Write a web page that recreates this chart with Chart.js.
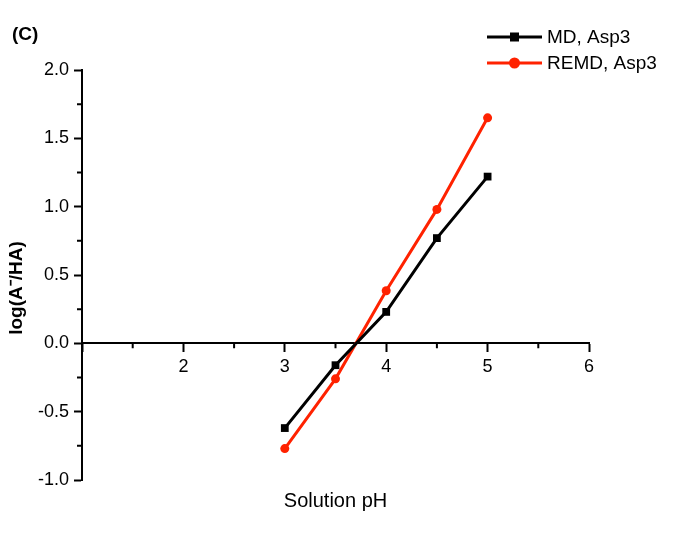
<!DOCTYPE html>
<html>
<head>
<meta charset="utf-8">
<script src="https://cdn.jsdelivr.net/npm/chart.js@4"></script>
<style>
  html, body { margin: 0; padding: 0; background: #fff; }
  #wrap { width: 675px; height: 535px; }
</style>
</head>
<body>
<div id="wrap"><canvas id="chart" width="675" height="535"></canvas></div>
<script>
// data
const phValues = [3, 3.5, 4, 4.5, 5];
const mdValues = [-0.62, -0.16, 0.23, 0.77, 1.22];
const remdValues = [-0.77, -0.26, 0.385, 0.98, 1.65];
const seriesLabels = ['MD, Asp3', 'REMD, Asp3'];
const xTickLabels = [2, 3, 4, 5, 6];
const yTickValues = [-1.0, -0.5, 0.0, 0.5, 1.0, 1.5, 2.0];

const FONT = '"Liberation Sans", Arial, sans-serif';
const RED = '#ff2200';

// minor ticks, legend, y title and panel label
const extras = {
    id: 'extras',
    afterDraw(chart) {
        const ctx = chart.ctx;
        const xs = chart.scales.x, ys = chart.scales.y;
        const y0 = ys.getPixelForValue(0);
        ctx.save();
        ctx.strokeStyle = '#000';
        ctx.lineWidth = 2;
        ctx.beginPath();
        for (let v = 1.5; v < 6; v += 1) {
            const px = xs.getPixelForValue(v);
            ctx.moveTo(px, y0);
            ctx.lineTo(px, y0 + 5);
        }
        for (let v = -0.75; v < 2; v += 0.5) {
            const py = ys.getPixelForValue(v);
            ctx.moveTo(ys.right, py);
            ctx.lineTo(ys.right - 5, py);
        }
        ctx.stroke();

        // legend
        const rows = [37, 63];
        chart.data.datasets.forEach((ds, i) => {
            const y = rows[i];
            ctx.strokeStyle = ds.borderColor;
            ctx.lineWidth = 3;
            ctx.beginPath();
            ctx.moveTo(487, y);
            ctx.lineTo(542, y);
            ctx.stroke();
            ctx.fillStyle = ds.borderColor;
            if (ds.pointStyle === 'rect') {
                ctx.fillRect(510, y - 4.5, 9, 9);
            } else {
                ctx.beginPath();
                ctx.arc(514.5, y, 5.5, 0, Math.PI * 2);
                ctx.fill();
            }
            ctx.fillStyle = '#000';
            ctx.font = '19px ' + FONT;
            ctx.textBaseline = 'middle';
            ctx.textAlign = 'left';
            ctx.fillText(ds.label, 547, y + 1);
        });

        ctx.fillStyle = '#000';
        ctx.font = 'bold 19px ' + FONT;
        ctx.textBaseline = 'middle';
        ctx.textAlign = 'left';
        ctx.fillText('(C)', 12, 35);

        // y axis title sits a bit below the axis centre in the original
        ctx.translate(17, 288);
        ctx.rotate(-Math.PI / 2);
        ctx.textAlign = 'center';
        ctx.fillText('log(A\u207B/HA)', 0, 0);
        ctx.restore();
    }
};

const ctx = document.getElementById('chart').getContext('2d');
const chart = new Chart(ctx, {
    type: 'line',
    data: {
        datasets: [{
            label: seriesLabels[0],
            data: phValues.map((x, i) => ({ x: x, y: mdValues[i] })),
            borderColor: '#000',
            backgroundColor: '#000',
            borderWidth: 3,
            pointStyle: 'rect',
            pointRadius: 5.5,
            pointBorderWidth: 0,
            tension: 0
        }, {
            label: seriesLabels[1],
            data: phValues.map((x, i) => ({ x: x, y: remdValues[i] })),
            borderColor: RED,
            backgroundColor: RED,
            borderWidth: 3,
            pointStyle: 'circle',
            pointRadius: 4.5,
            pointBorderWidth: 0,
            tension: 0
        }]
    },
    options: {
        responsive: false,
        animation: false,
        layout: { padding: { top: 70, right: 86, bottom: 18, left: 0 } },
        plugins: {
            legend: { display: false },
            tooltip: { enabled: false }
        },
        scales: {
            x: {
                type: 'linear',
                min: 1, max: 6,
                position: { y: 0 },
                border: { display: true, color: '#000', width: 2 },
                grid: { drawOnChartArea: false, drawTicks: true, tickLength: 8, tickWidth: 2, tickColor: '#000' },
                afterBuildTicks: s => { s.ticks = [1].concat(xTickLabels).map(v => ({ value: v })); },
                ticks: {
                    padding: 5,
                    color: '#000',
                    font: { family: FONT, size: 18 },
                    maxRotation: 0,
                    callback: v => xTickLabels.includes(v) ? String(v) : ''
                }
            },
            x2: {
                type: 'linear',
                min: 1, max: 6,
                position: 'bottom',
                border: { display: false },
                grid: { display: false, drawTicks: false },
                ticks: { display: false },
                title: {
                    display: true,
                    text: 'Solution pH',
                    color: '#000',
                    font: { family: FONT, size: 20 }
                },
                afterFit: s => { s.height = 37; }
            },
            y: {
                type: 'linear',
                min: -1, max: 2,
                position: 'left',
                border: { display: true, color: '#000', width: 2 },
                grid: { drawOnChartArea: false, drawTicks: true, tickLength: 8, tickWidth: 2, tickColor: '#000' },
                afterBuildTicks: s => { s.ticks = yTickValues.map(v => ({ value: v })); },
                ticks: {
                    padding: 5,
                    color: '#000',
                    font: { family: FONT, size: 18 },
                    callback: v => v.toFixed(1)
                },
                afterFit: s => { s.width = 82; }
            }
        }
    },
    plugins: [extras]
});
</script>
</body>
</html>
